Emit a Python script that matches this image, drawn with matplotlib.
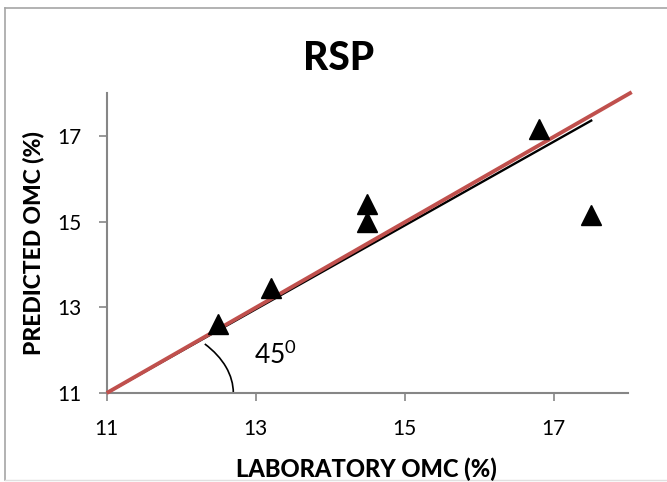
import matplotlib
matplotlib.use("Agg")
import matplotlib.pyplot as plt
from matplotlib.patches import Arc
from matplotlib.lines import Line2D

# values
lab_omc = [12.5, 13.2, 14.5, 14.5, 16.8, 17.5]
pred_omc = [12.6, 13.45, 15.0, 15.4, 17.15, 15.15]
equality_x = [11, 18.05]
equality_y = [11, 18.02]
trend_x = [11, 17.52]
trend_y = [11, 17.37]
ticks = [11, 13, 15, 17]

plt.rcParams['font.family'] = ['Lato', 'DejaVu Sans']

fig = plt.figure(figsize=(6.67, 4.82), dpi=100)
ax = fig.add_axes([0.16, 0.1846, 0.7815, 0.6224])

ax.plot(trend_x, trend_y, color='black', lw=1.7, zorder=2, solid_capstyle='butt')
ax.plot(equality_x, equality_y, color='#C0504D', lw=2.8, zorder=3,
        clip_on=False, solid_capstyle='butt')
ax.plot(lab_omc, pred_omc, linestyle='none', marker='^', markersize=14,
        color='black', zorder=4, clip_on=False)

ax.add_patch(Arc((11, 11), 3.4, 3.62, theta1=0, theta2=41,
                 color='black', lw=1.2, zorder=2))
ax.text(12.98, 11.67, r'45$^{\mathregular{0}}$', fontsize=19, va='baseline')

ax.set_xlim(11, 18)
ax.set_ylim(11, 18)
ax.set_xticks(ticks)
ax.set_yticks(ticks)
for s in ['top', 'right']:
    ax.spines[s].set_visible(False)
for s in ['left', 'bottom']:
    ax.spines[s].set_color('#868686')
    ax.spines[s].set_linewidth(1.5)
ax.tick_params(axis='both', colors='#868686', labelcolor='black',
               labelsize=15, length=6, width=1.2)
ax.tick_params(axis='x', pad=13)
ax.tick_params(axis='y', pad=12)

fig.text(0.508, 1 - 70 / 482, 'RSP', fontsize=28, fontweight='black',
         ha='center', va='baseline')
fig.text(0.55, 1 - 477 / 482, 'LABORATORY OMC (%)', fontsize=17,
         fontweight='black', ha='center', va='baseline')
fig.text(0.0495, 0.496, 'PREDICTED OMC (%)', fontsize=16.5, fontweight='black',
         rotation=90, ha='center', va='center')

# outer chart border
fig.add_artist(Line2D([5 / 667, 5 / 667], [2 / 482, 1 - 8 / 482],
                      transform=fig.transFigure, color='#a6a6a6', lw=1.2))
fig.add_artist(Line2D([5 / 667, 1], [1 - 8 / 482, 1 - 8 / 482],
                      transform=fig.transFigure, color='#a6a6a6', lw=1.2))
fig.add_artist(Line2D([5 / 667, 1], [2 / 482, 2 / 482],
                      transform=fig.transFigure, color='#e0e0e0', lw=1.0))

fig.savefig('out.png', dpi=100)
